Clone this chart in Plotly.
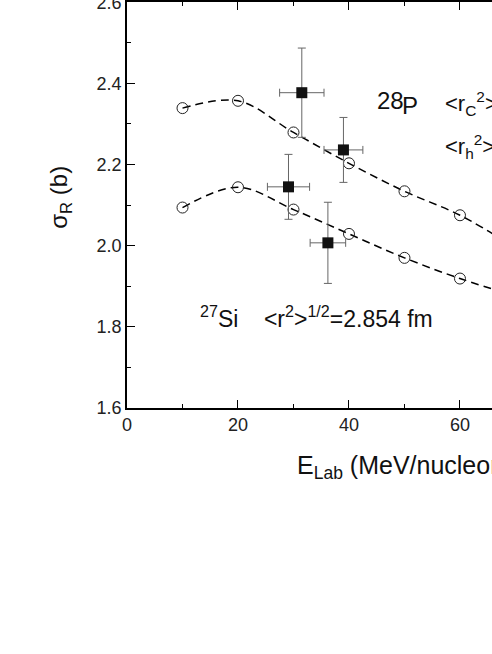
import plotly.graph_objects as go

# calculated sigma_R (open circles + dashed curve)
e_calc = [10, 20, 30, 40, 50, 60, 70]
sig_p28 = [2.339, 2.357, 2.279, 2.203, 2.134, 2.075, 1.995]
sig_si27 = [2.094, 2.144, 2.089, 2.029, 1.970, 1.919, 1.876]

# measured points
e_exp = [31.5, 39.0, 29.1, 36.2]
e_exp_err = [4.0, 3.5, 3.8, 3.2]
sig_exp = [2.377, 2.236, 2.145, 2.007]
sig_exp_err = [0.11, 0.08, 0.08, 0.10]

FONT = "Liberation Sans, Arial, sans-serif"

fig = go.Figure()

for ys in (sig_p28, sig_si27):
    fig.add_trace(go.Scatter(
        x=e_calc, y=ys, mode='lines+markers',
        line=dict(color='black', width=1.5, dash='8px,5px', shape='spline'),
        marker=dict(symbol='circle-open', size=11, color='#222', line=dict(width=1)),
        showlegend=False
    ))

fig.add_trace(go.Scatter(
    x=e_exp, y=sig_exp, mode='markers',
    marker=dict(symbol='square', size=11, color='#111'),
    error_x=dict(type='data', array=e_exp_err, color='#666', thickness=1, width=4),
    error_y=dict(type='data', array=sig_exp_err, color='#666', thickness=1, width=4),
    showlegend=False
))

fig.update_xaxes(
    range=[0, 65.77], tickvals=[0, 20, 40, 60], automargin=False,
    ticks='inside', ticklen=8, tickwidth=1.2, tickcolor='black',
    minor=dict(dtick=10, ticks='inside', ticklen=4, tickcolor='black', tickwidth=1.2),
    showline=True, linecolor='black', linewidth=1.5, mirror='ticks',
    showgrid=False, zeroline=False, ticklabeloverflow='allow',
    tickfont=dict(size=18, color='#222', family=FONT)
)
fig.update_yaxes(
    range=[1.6, 2.6005], tickvals=[1.6, 1.8, 2.0, 2.2, 2.4, 2.6], automargin=False,
    ticktext=['1.6', '1.8', '2.0', '2.2', '2.4', '2.6'],
    ticks='inside', ticklen=8, tickwidth=1.2, tickcolor='black',
    minor=dict(dtick=0.1, ticks='inside', ticklen=4, tickcolor='black', tickwidth=1.2),
    showline=True, linecolor='black', linewidth=1.5,
    showgrid=False, zeroline=False, ticklabeloverflow='allow',
    tickfont=dict(size=18, color='#222', family=FONT)
)

ann = [
    dict(x=-0.181, y=0.52, xref='paper', yref='paper', textangle=-90,
         xanchor='center', yanchor='middle',
         text='σ<sub>R</sub> (b)', font=dict(size=24)),
    dict(x=30.3, y=-0.145, xref='x', yref='paper', xanchor='left', yanchor='middle',
         text='E<sub>Lab</sub> (MeV/nucleon)', font=dict(size=25)),
    dict(x=44.6, y=2.357, xanchor='left', yanchor='middle',
         text='28', font=dict(size=24)),
    dict(x=49.2, y=2.345, xanchor='left', yanchor='middle',
         text='P', font=dict(size=24)),
    dict(x=56.9, y=2.35, xanchor='left', yanchor='middle',
         text='&lt;r<sub>C</sub><sup>2</sup>&gt;', font=dict(size=22)),
    dict(x=56.9, y=2.245, xanchor='left', yanchor='middle',
         text='&lt;r<sub>h</sub><sup>2</sup>&gt;', font=dict(size=22)),
    dict(x=12.8, y=1.824, xanchor='left', yanchor='middle',
         text='<sup>27</sup>Si    &lt;r<sup>2</sup>&gt;<sup>1/2</sup>=2.854 fm',
         font=dict(size=23)),
]
for a in ann:
    a.setdefault('xref', 'x')
    a.setdefault('yref', 'y')
    a['showarrow'] = False
    a['font'].update(family=FONT, color='#111')

fig.update_layout(
    width=492, height=654,
    margin=dict(l=127, r=0, t=2, b=246),
    plot_bgcolor='white', paper_bgcolor='white',
    font=dict(family=FONT, color='#111'),
    annotations=ann
)

# page body has an 8px default margin; drop it so the plot sits at 0,0
fig.write_html("out.html", config={'displayModeBar': False},
               post_script="document.body.style.margin='0px';")
